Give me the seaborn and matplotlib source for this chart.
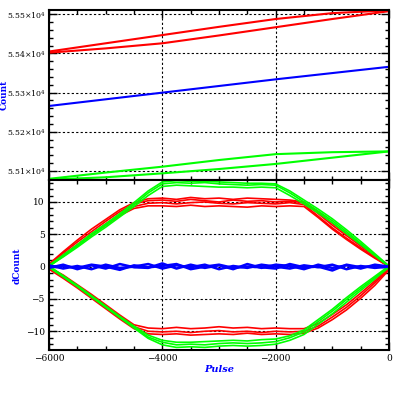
import numpy as np
import pandas as pd
import matplotlib
matplotlib.use('Agg')
import matplotlib.pyplot as plt
from matplotlib.ticker import MultipleLocator, FuncFormatter
import seaborn as sns

# top panel: raw counts vs pulse
pulse_top = [-6000, -5000, -4000, -3000, -2000, -1000, 0]
count_red_up = [55405, 55426, 55447, 55468, 55488, 55503, 55510]
count_red_lo = [55402, 55413, 55426, 55446, 55467, 55488, 55508]
count_blue = [55266, 55283, 55300, 55317, 55334, 55350, 55366]
count_green_up = [55080, 55096, 55111, 55128, 55143, 55148, 55150]
count_green_lo = [55078, 55084, 55094, 55105, 55118, 55134, 55150]

# bottom panel: count differences vs pulse
pulse = [-6000, -5750, -5500, -5250, -5000, -4750, -4500, -4250, -4000, -3750,
         -3500, -3250, -3000, -2750, -2500, -2250, -2000, -1750, -1500, -1250,
         -1000, -750, -500, -250, 0]

red_up_1 = [0.3, 2.1, 3.8, 5.4, 7.0, 8.5, 9.7, 10.2, 10.3, 10.1, 10.4, 10.2, 10.0, 10.3, 10.1, 10.2, 10.0, 10.1, 9.9, 8.2, 6.4, 4.8, 3.2, 1.6, 0.0]
red_up_2 = [0.1, 1.8, 3.4, 5.0, 6.6, 8.1, 9.3, 9.8, 9.9, 9.7, 9.9, 10.0, 9.8, 9.7, 9.9, 9.8, 9.7, 9.9, 9.6, 7.8, 6.0, 4.4, 2.9, 1.4, 0.0]
red_up_3 = [0.4, 2.3, 4.1, 5.8, 7.3, 8.8, 9.9, 10.5, 10.6, 10.4, 10.7, 10.5, 10.6, 10.4, 10.6, 10.5, 10.4, 10.3, 10.0, 8.5, 6.7, 5.1, 3.5, 1.8, 0.1]
red_up_4 = [0.2, 1.7, 3.3, 4.9, 6.4, 7.9, 9.0, 9.4, 9.4, 9.3, 9.5, 9.3, 9.4, 9.3, 9.2, 9.4, 9.3, 9.4, 9.3, 7.6, 5.8, 4.2, 2.7, 1.3, 0.0]
red_lo_1 = [-0.2, -1.5, -3.0, -4.6, -6.2, -7.8, -9.3, -10.0, -10.1, -10.0, -10.2, -10.0, -9.9, -10.1, -10.0, -10.2, -10.0, -10.1, -10.0, -9.2, -7.8, -6.3, -4.5, -2.5, -0.3]
red_lo_2 = [-0.4, -1.8, -3.3, -4.9, -6.5, -8.1, -9.6, -10.4, -10.5, -10.4, -10.6, -10.5, -10.4, -10.5, -10.3, -10.5, -10.4, -10.5, -10.3, -9.5, -8.2, -6.7, -4.9, -2.9, -0.5]
red_lo_3 = [-0.1, -1.3, -2.8, -4.3, -5.9, -7.5, -9.0, -9.5, -9.6, -9.4, -9.6, -9.5, -9.3, -9.5, -9.4, -9.6, -9.5, -9.6, -9.6, -8.8, -7.4, -5.9, -4.1, -2.2, -0.2]

green_up_1 = [0.0, 1.6, 3.2, 4.9, 6.4, 8.0, 9.6, 11.4, 12.8, 13.0, 12.9, 13.0, 12.8, 12.7, 12.6, 12.7, 12.6, 11.4, 10.0, 8.6, 7.1, 5.4, 3.6, 1.8, 0.0]
green_up_2 = [0.1, 1.5, 3.0, 4.6, 6.1, 7.7, 9.3, 11.0, 12.4, 12.6, 12.5, 12.4, 12.3, 12.3, 12.2, 12.3, 12.2, 11.0, 9.7, 8.3, 6.8, 5.1, 3.4, 1.7, 0.0]
green_up_3 = [0.2, 1.8, 3.4, 5.1, 6.6, 8.2, 9.9, 11.7, 13.1, 13.3, 13.2, 13.2, 13.1, 13.0, 12.9, 12.9, 12.8, 11.7, 10.3, 8.9, 7.4, 5.7, 3.9, 2.0, 0.1]
green_lo_1 = [0.0, -1.5, -3.0, -4.6, -6.2, -7.8, -9.4, -10.9, -11.7, -12.1, -12.0, -12.1, -11.9, -11.8, -11.9, -11.8, -11.6, -11.0, -10.1, -8.5, -6.9, -5.1, -3.4, -1.7, 0.0]
green_lo_2 = [-0.1, -1.6, -3.1, -4.7, -6.3, -7.9, -9.5, -11.1, -12.1, -12.5, -12.4, -12.5, -12.3, -12.2, -12.3, -12.2, -12.0, -11.4, -10.5, -8.9, -7.3, -5.5, -3.7, -1.9, -0.1]
green_lo_3 = [0.1, -1.4, -2.9, -4.5, -6.1, -7.7, -9.2, -10.6, -11.4, -11.7, -11.7, -11.6, -11.5, -11.4, -11.5, -11.3, -11.2, -10.7, -9.8, -8.2, -6.6, -4.8, -3.1, -1.5, 0.1]

blue_1 = [0.2, -0.3, 0.1, -0.4, 0.3, -0.2, 0.0, 0.4, -0.3, 0.2, -0.1, 0.3, -0.4, 0.1, -0.2, 0.3, 0.0, -0.3, 0.2, -0.1, 0.3, -0.4, 0.1, -0.2, 0.0]
blue_2 = [-0.2, 0.3, -0.4, 0.2, -0.3, 0.4, -0.1, -0.2, 0.5, -0.3, 0.3, -0.2, 0.2, -0.4, 0.4, -0.2, 0.3, 0.1, -0.4, 0.3, -0.2, 0.2, -0.3, 0.3, 0.0]
blue_3 = [0.0, 0.1, -0.2, 0.3, 0.0, -0.5, 0.2, -0.1, 0.1, 0.4, -0.4, 0.0, 0.3, -0.2, 0.0, -0.1, -0.3, 0.4, -0.1, 0.0, -0.6, 0.3, -0.1, 0.1, 0.0]

colors = {'red': '#ff0000', 'green': '#00ff00', 'blue': '#0000ff'}

top_series = [('red', 'a', count_red_up), ('red', 'b', count_red_lo),
              ('blue', 'a', count_blue),
              ('green', 'a', count_green_up), ('green', 'b', count_green_lo)]
bot_series = [('red', 'u1', red_up_1), ('red', 'u2', red_up_2), ('red', 'u3', red_up_3),
              ('red', 'u4', red_up_4), ('red', 'l1', red_lo_1), ('red', 'l2', red_lo_2),
              ('red', 'l3', red_lo_3),
              ('green', 'u1', green_up_1), ('green', 'u2', green_up_2), ('green', 'u3', green_up_3),
              ('green', 'l1', green_lo_1), ('green', 'l2', green_lo_2), ('green', 'l3', green_lo_3),
              ('blue', 'b1', blue_1), ('blue', 'b2', blue_2), ('blue', 'b3', blue_3)]

top_df = pd.concat([pd.DataFrame({'pulse': pulse_top, 'count': v, 'set': c, 'trace': c + t})
                    for c, t, v in top_series])
bot_df = pd.concat([pd.DataFrame({'pulse': pulse, 'dcount': v, 'set': c, 'trace': c + t})
                    for c, t, v in bot_series])

sns.set_style('ticks')
plt.rcParams['font.family'] = ['DejaVu Serif']
plt.rcParams['mathtext.fontset'] = 'dejavuserif'

fig = plt.figure(figsize=(3.99, 3.99), dpi=100)
ax1 = fig.add_axes([49 / 399, 1 - 180 / 399, 340 / 399, 170 / 399])
ax2 = fig.add_axes([49 / 399, 1 - 350 / 399, 340 / 399, 170 / 399], sharex=ax1)

sns.lineplot(data=top_df, x='pulse', y='count', hue='set', units='trace', estimator=None,
             palette=colors, linewidth=1.5, legend=False, ax=ax1)
for name in ['red', 'green', 'blue']:
    sub = bot_df[bot_df['set'] == name]
    sns.lineplot(data=sub, x='pulse', y='dcount', units='trace', estimator=None,
                 color=colors[name], linewidth=1.8 if name == 'blue' else 1.2,
                 legend=False, ax=ax2)

ax1.set_xlim(-6000, 0)
ax1.set_ylim(55077, 55511)
ax2.set_ylim(-12.9, 13.4)

ax1.yaxis.set_major_locator(MultipleLocator(100))
ax1.yaxis.set_minor_locator(MultipleLocator(20))
ax1.yaxis.set_major_formatter(FuncFormatter(lambda v, p: r'$%.2f{\times}10^4$' % (v / 1e4)))
ax2.yaxis.set_major_locator(MultipleLocator(5))
ax2.yaxis.set_minor_locator(MultipleLocator(1))
ax2.yaxis.set_major_formatter(FuncFormatter(lambda v, p: '%d' % v if v >= 0 else '\u2212%d' % -v))
ax2.xaxis.set_major_locator(MultipleLocator(2000))
ax2.xaxis.set_minor_locator(MultipleLocator(500))
ax2.xaxis.set_major_formatter(FuncFormatter(lambda v, p: '%d' % v if v >= 0 else '\u2212%d' % -v))

for ax in (ax1, ax2):
    ax.grid(True, which='major', color='black', linestyle=(0, (2, 2)), linewidth=0.8)
    ax.tick_params(which='both', direction='in', top=True, right=True, colors='black',
                   labelsize=6.5, width=1, pad=3)
    ax.tick_params(which='major', length=6)
    ax.tick_params(which='minor', length=3)
    for s in ax.spines.values():
        s.set_linewidth(1.5)
        s.set_color('black')
    ax.set_xlabel('')
    ax.set_ylabel('')
ax1.tick_params(axis='y', labelsize=5.6, pad=2)
ax1.tick_params(labelbottom=False)

fig.text(4 / 399, 1 - 95 / 399, 'Count', color='#0000ff', rotation=90, fontsize=6.5,
         fontweight='bold', ha='center', va='center')
fig.text(17 / 399, 1 - 266 / 399, 'dCount', color='#0000ff', rotation=90, fontsize=6.5,
         fontweight='bold', ha='center', va='center')
fig.text(219 / 399, 1 - 370 / 399, 'Pulse', color='#0000ff', fontsize=7,
         fontweight='bold', style='italic', ha='center', va='center')

fig.savefig('out.png', dpi=100)
